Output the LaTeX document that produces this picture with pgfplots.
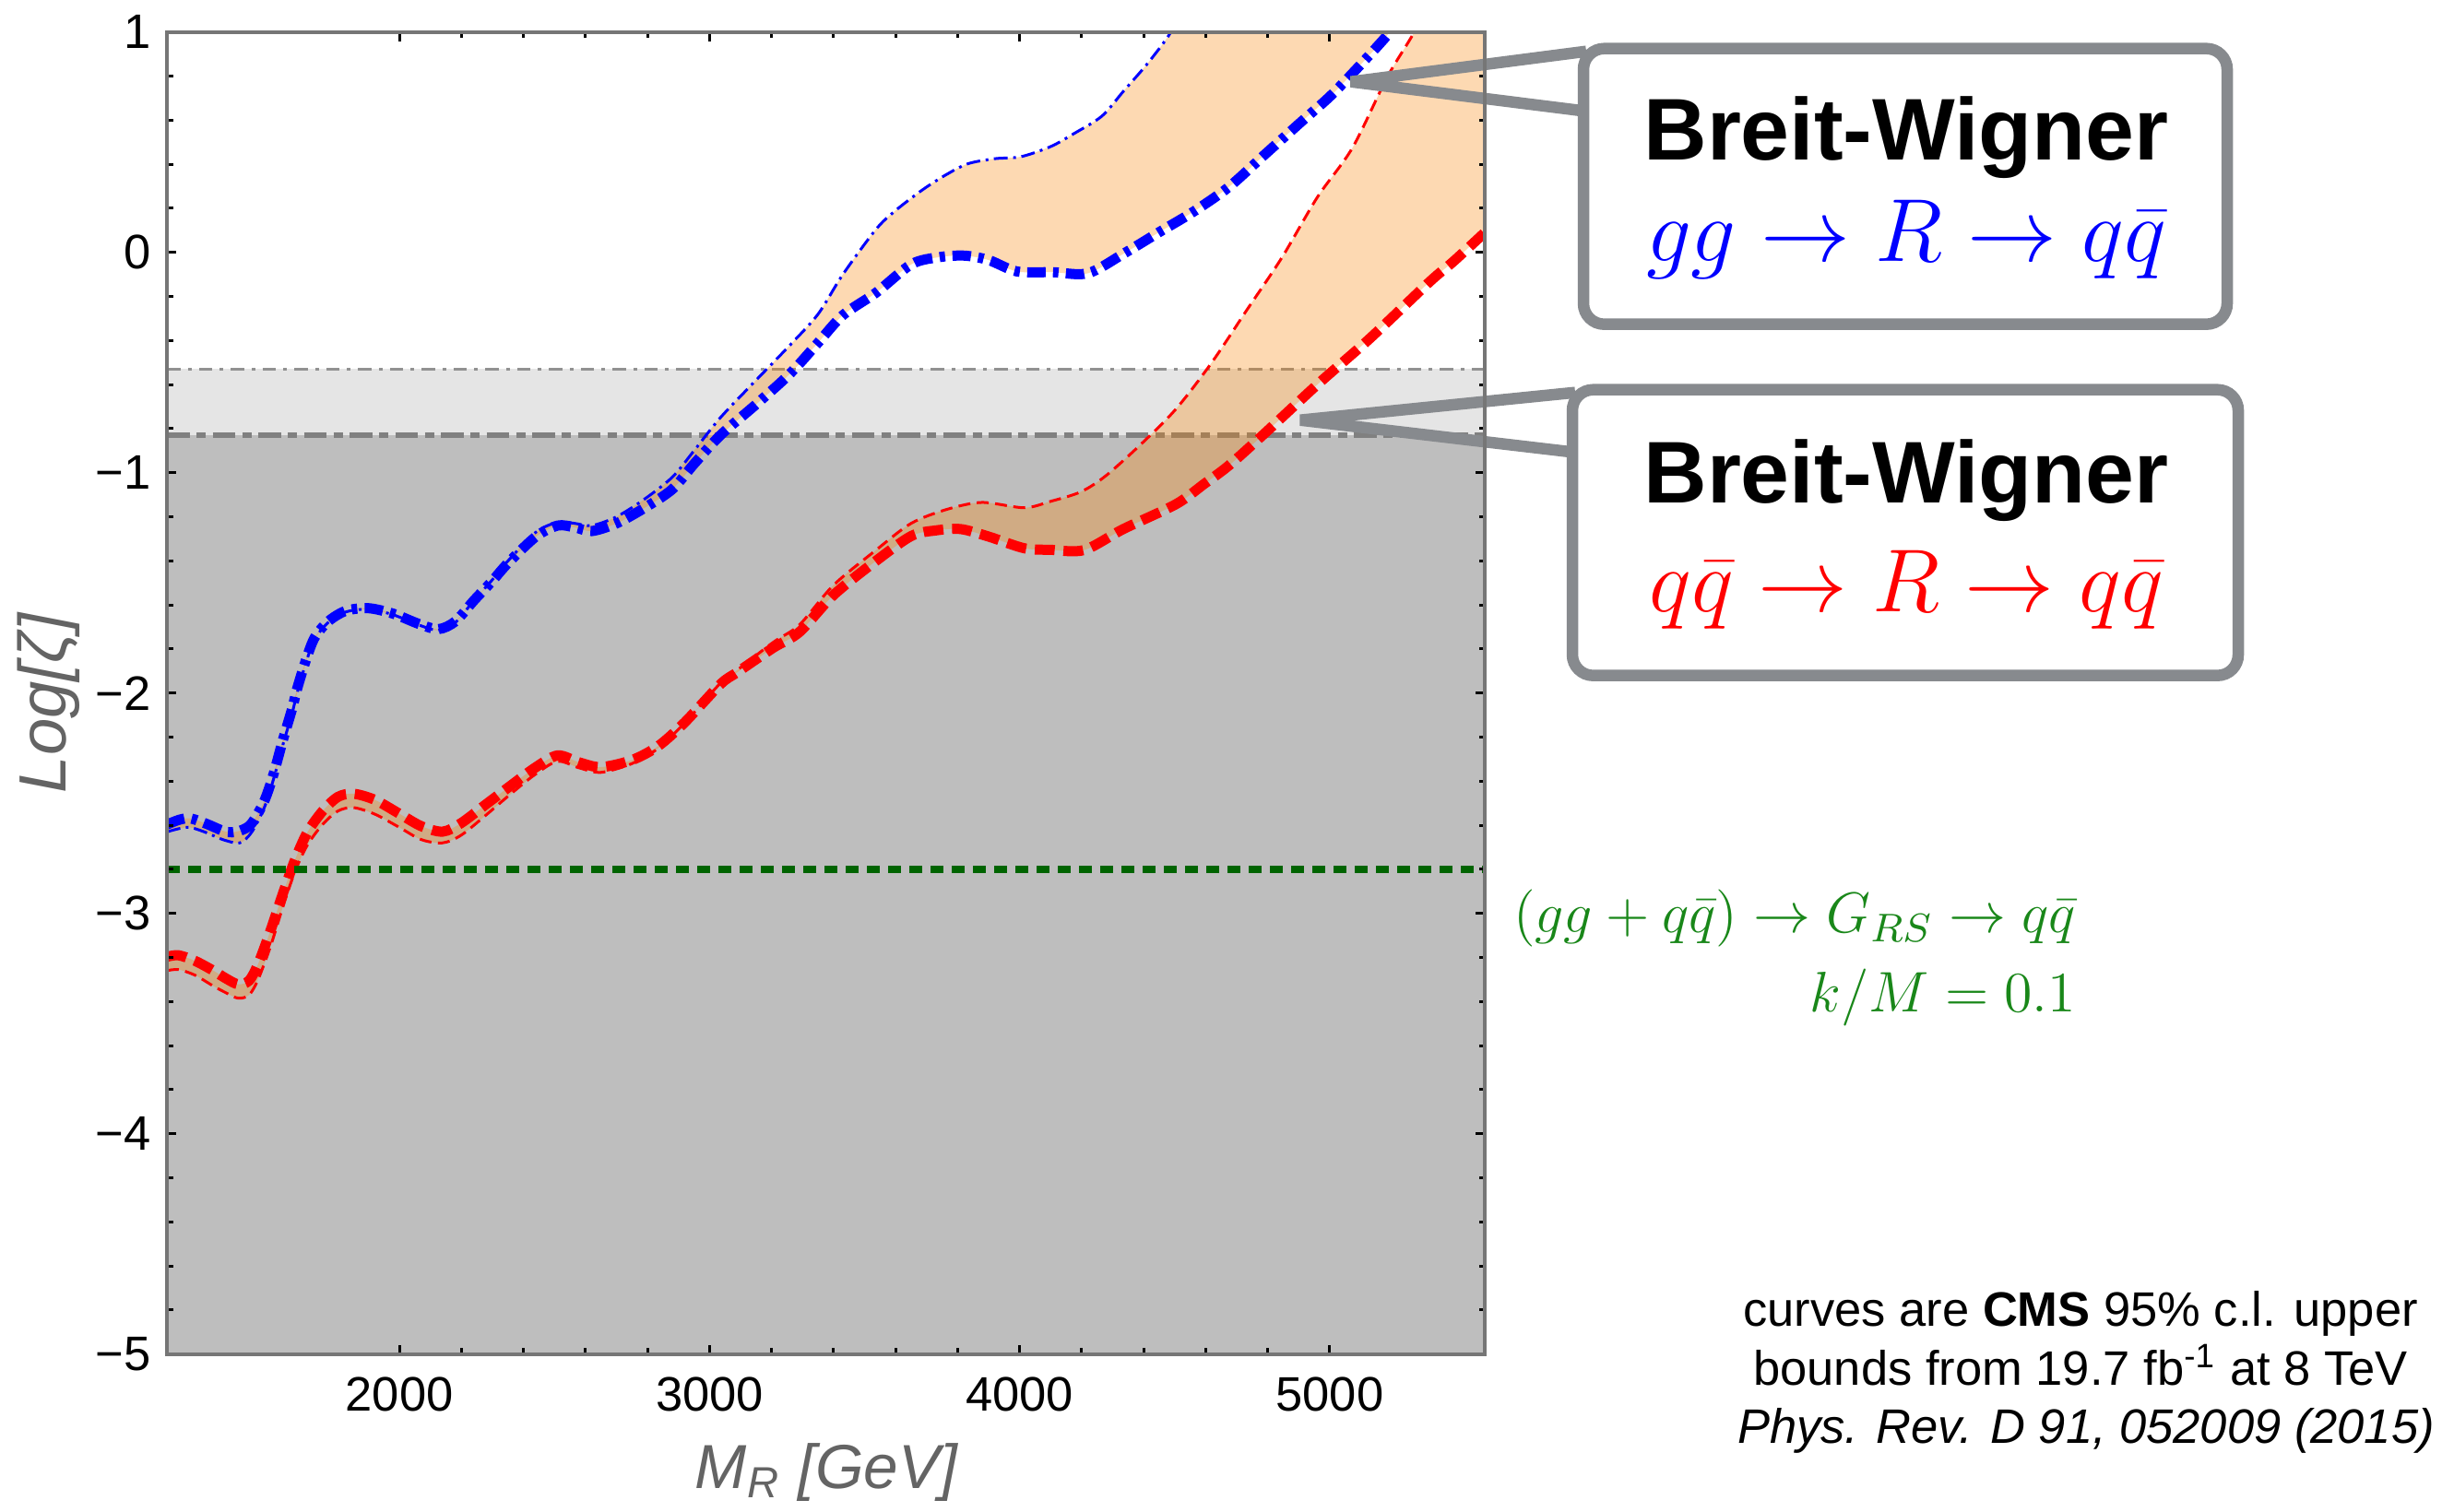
\RequirePackage{fix-cm}
\documentclass[border=0pt]{standalone}
\usepackage{fontspec}
\setmainfont{Liberation Sans}
\usepackage{pgfplots}
\usepackage{pgfplotstable}
\pgfplotsset{compat=1.18}
\usepgfplotslibrary{fillbetween}
\tikzset{fill between/on layer=main}

\definecolor{axisgray}{RGB}{118,118,118}
\definecolor{darkband}{RGB}{190,190,190}
\definecolor{lightband}{RGB}{229,229,229}
\definecolor{limitgray}{RGB}{128,128,128}
\definecolor{thingray}{RGB}{145,145,145}
\definecolor{peach}{RGB}{250,130,0}
\definecolor{rsgreen}{RGB}{0,100,0}
\definecolor{rstext}{RGB}{25,135,25}
\definecolor{boxgray}{RGB}{135,138,142}
\definecolor{labelgray}{RGB}{100,100,100}

% gg -> R -> qq: observed bound (thick) and second bound (thin)
\pgfplotstableread{
x y
1250 -2.597
1290 -2.575
1326 -2.569
1380 -2.595
1430 -2.625
1460 -2.632
1495 -2.620
1524 -2.590
1564 -2.490
1594 -2.367
1624 -2.213
1654 -2.070
1670 -1.980
1700 -1.843
1727 -1.747
1770 -1.675
1827 -1.627
1900 -1.615
1980 -1.640
2060 -1.685
2125 -1.710
2180 -1.675
2240 -1.580
2300 -1.490
2350 -1.410
2440 -1.290
2510 -1.240
2565 -1.248
2620 -1.265
2700 -1.230
2790 -1.160
2880 -1.075
2950 -0.960
3035 -0.830
3150 -0.690
3260 -0.550
3350 -0.410
3430 -0.285
3537 -0.183
3651 -0.054
3740 -0.022
3822 -0.015
3900 -0.035
3992 -0.087
4106 -0.090
4220 -0.095
4334 -0.007
4448 0.090
4561 0.185
4675 0.297
4789 0.442
4903 0.586
5017 0.730
5176 0.970
5260 1.120
}\bthick

\pgfplotstableread{
x y
1250 -2.630
1290 -2.615
1326 -2.610
1380 -2.635
1430 -2.665
1485 -2.680
1524 -2.630
1564 -2.520
1594 -2.390
1624 -2.235
1654 -2.090
1670 -2.000
1700 -1.855
1727 -1.755
1770 -1.680
1827 -1.632
1900 -1.620
1980 -1.645
2060 -1.690
2125 -1.715
2180 -1.680
2240 -1.580
2300 -1.485
2350 -1.400
2440 -1.270
2510 -1.225
2565 -1.230
2620 -1.240
2700 -1.200
2790 -1.120
2880 -1.020
2950 -0.900
3035 -0.750
3150 -0.580
3260 -0.420
3350 -0.280
3430 -0.100
3537 0.105
3600 0.190
3685 0.282
3760 0.350
3833 0.402
3920 0.425
4004 0.434
4100 0.480
4174 0.538
4265 0.618
4334 0.730
4413 0.858
4488 1.000
4540 1.150
}\bthin

% qq -> R -> qq: observed bound (thick) and second bound (thin)
\pgfplotstableread{
x y
1250 -3.197
1287 -3.190
1340 -3.215
1400 -3.260
1440 -3.295
1480 -3.322
1515 -3.305
1544 -3.230
1584 -3.078
1624 -2.910
1663 -2.757
1703 -2.632
1753 -2.534
1802 -2.471
1852 -2.457
1921 -2.485
2000 -2.548
2070 -2.604
2139 -2.629
2199 -2.590
2278 -2.506
2357 -2.422
2437 -2.339
2510 -2.283
2580 -2.315
2650 -2.336
2750 -2.304
2835 -2.240
2920 -2.133
3035 -1.960
3090 -1.905
3205 -1.795
3290 -1.723
3400 -1.555
3537 -1.400
3651 -1.287
3730 -1.262
3810 -1.256
3900 -1.290
4015 -1.343
4100 -1.350
4208 -1.351
4334 -1.256
4504 -1.143
4596 -1.050
4675 -0.967
4789 -0.823
4960 -0.600
5130 -0.390
5321 -0.135
5400 -0.040
5500 0.090
}\rthick

\pgfplotstableread{
x y
1250 -3.260
1287 -3.255
1340 -3.280
1400 -3.330
1440 -3.360
1480 -3.385
1515 -3.370
1544 -3.300
1584 -3.150
1624 -2.970
1663 -2.810
1703 -2.690
1753 -2.595
1802 -2.535
1852 -2.520
1921 -2.550
2000 -2.610
2070 -2.665
2139 -2.680
2199 -2.645
2278 -2.555
2357 -2.460
2437 -2.370
2510 -2.310
2580 -2.340
2650 -2.360
2750 -2.320
2835 -2.250
2920 -2.135
3035 -1.955
3090 -1.895
3205 -1.770
3290 -1.690
3400 -1.510
3537 -1.351
3650 -1.230
3764 -1.167
3878 -1.135
4015 -1.159
4100 -1.130
4197 -1.087
4277 -1.015
4391 -0.871
4504 -0.711
4618 -0.503
4732 -0.263
4846 -0.023
4960 0.250
5073 0.474
5185 0.794
5267 0.986
5350 1.200
5500 1.550
}\rthin

\begin{document}
\begin{tikzpicture}
\begin{axis}[
  at={(36.2pt,34.2pt)}, anchor=south west,
  scale only axis, width=285.8pt, height=286.8pt,
  xmin=1250, xmax=5500, ymin=-5, ymax=1,
  xtick={2000,3000,4000,5000},
  xticklabels={2000,3000,4000,5000},
  minor x tick num=4,
  ytick={-5,-4,-3,-2,-1,0,1},
  yticklabels={−5,−4,−3,−2,−1,0,1},
  minor y tick num=4,
  tick label style={font=\fontsize{10.5}{12}\selectfont},
  xticklabel style={yshift=-1.5pt},
  axis line style={draw=axisgray, line width=0.8pt},
  tick style={black, line width=0.6pt},
  major tick length=2pt, minor tick length=1.3pt,
  axis on top,
  clip=true,
]
% excluded regions
\addplot[draw=none, fill=darkband, forget plot] coordinates {(1250,-5) (5500,-5) (5500,-0.83) (1250,-0.83)} -- cycle;
\addplot[draw=none, fill=lightband, forget plot] coordinates {(1250,-0.83) (5500,-0.83) (5500,-0.53) (1250,-0.53)} -- cycle;
\addplot[thingray, line width=0.5pt, dash pattern=on 2.9pt off 1.6pt on 0.8pt off 1.6pt, forget plot] coordinates {(1250,-0.53) (5500,-0.53)};
\addplot[limitgray, line width=1.2pt, dash pattern=on 4.9pt off 1.5pt on 2pt off 1.5pt, forget plot] coordinates {(1250,-0.83) (5500,-0.83)};

% band outlines for the fills
\addplot[draw=none, name path=bthin, smooth, tension=0.5, forget plot] table {\bthin};
\addplot[draw=none, name path=bthick, smooth, tension=0.5, forget plot] table {\bthick};
\addplot[draw=none, name path=rthin, smooth, tension=0.5, forget plot] table {\rthin};
\addplot[draw=none, name path=rthick, smooth, tension=0.5, forget plot] table {\rthick};
\addplot[draw=none, fill=peach, fill opacity=0.3, forget plot] fill between[of=bthin and bthick];
\addplot[draw=none, fill=peach, fill opacity=0.3, forget plot] fill between[of=rthin and rthick];

% curves
\addplot[blue, line width=0.6pt, smooth, tension=0.5, dash pattern=on 3pt off 1.2pt on 0.6pt off 1.2pt, forget plot] table {\bthin};
\addplot[red, line width=0.6pt, smooth, tension=0.5, dash pattern=on 2.6pt off 1.4pt, forget plot] table {\rthin};
\addplot[blue, line width=2.2pt, smooth, tension=0.5, dash pattern=on 4pt off 1.6pt on 1.2pt off 1.6pt, forget plot] table {\bthick};
\addplot[red, line width=2.2pt, smooth, tension=0.5, dash pattern=on 4.3pt off 1.9pt, forget plot] table {\rthick};

% RS graviton reference line
\addplot[rsgreen, line width=1.6pt, dash pattern=on 2.7pt off 1.9pt, forget plot] coordinates {(1250,-2.8) (5500,-2.8)};
\end{axis}

\begin{scope}[x=0.2pt, y=-0.2pt, shift={(0pt,327.4pt)}, every node/.style={inner sep=0pt}]
\path[use as bounding box] (0,0) rectangle (2661,1637);

% axis titles
\node[rotate=90, anchor=base, text=labelgray, font=\itshape\fontsize{14.5}{17}\selectfont] at (71,760) {Log[ζ]};
\node[anchor=base, text=labelgray, font=\itshape\fontsize{13.5}{16}\selectfont] at (896,1612) {M\textsubscript{R} [GeV]};

% callouts
\draw[boxgray, line width=2.5pt, line join=bevel] (1720,53) -- (1465,86) -- (1720,118);
\draw[boxgray, line width=2.5pt, rounded corners=4.5pt, fill=white] (1717,50) rectangle (2415,349);
\node[anchor=base, font=\bfseries\fontsize{19}{22}\selectfont] at (2067,171) {Breit-Wigner};
\node[anchor=base, text=blue, font=\fontsize{19.4}{22}\selectfont] at (2067,281) {$gg\to R\to q\bar q$};

\draw[boxgray, line width=2.5pt, line join=bevel] (1708,423) -- (1410,453) -- (1708,488);
\draw[boxgray, line width=2.5pt, rounded corners=4.5pt, fill=white] (1705,420) rectangle (2427,730);
\node[anchor=base, font=\bfseries\fontsize{19}{22}\selectfont] at (2067,543) {Breit-Wigner};
\node[anchor=base, text=red, font=\fontsize{19.4}{22}\selectfont] at (2067,661) {$q\bar q\to R\to q\bar q$};

% RS graviton label
\node[anchor=base east, text=rstext, font=\fontsize{12.4}{15}\selectfont] at (2252,1009) {$(gg+q\bar q)\to G_{RS}\to q\bar q$};
\node[anchor=base east, text=rstext, font=\fontsize{12.4}{15}\selectfont] at (2252,1095) {$k/M=0.1$};

% source note
\node[anchor=base, font=\fontsize{10.5}{12}\selectfont] at (2256,1436) {curves are \textbf{CMS} 95\% c.l. upper};
\node[anchor=base, font=\fontsize{10.5}{12}\selectfont] at (2256,1500) {bounds from 19.7 fb\textsuperscript{-1} at 8 TeV};
\node[anchor=base, font=\itshape\fontsize{10.5}{12}\selectfont] at (2262,1563) {Phys. Rev. D 91, 052009 (2015)};
\end{scope}
\end{tikzpicture}
\end{document}
